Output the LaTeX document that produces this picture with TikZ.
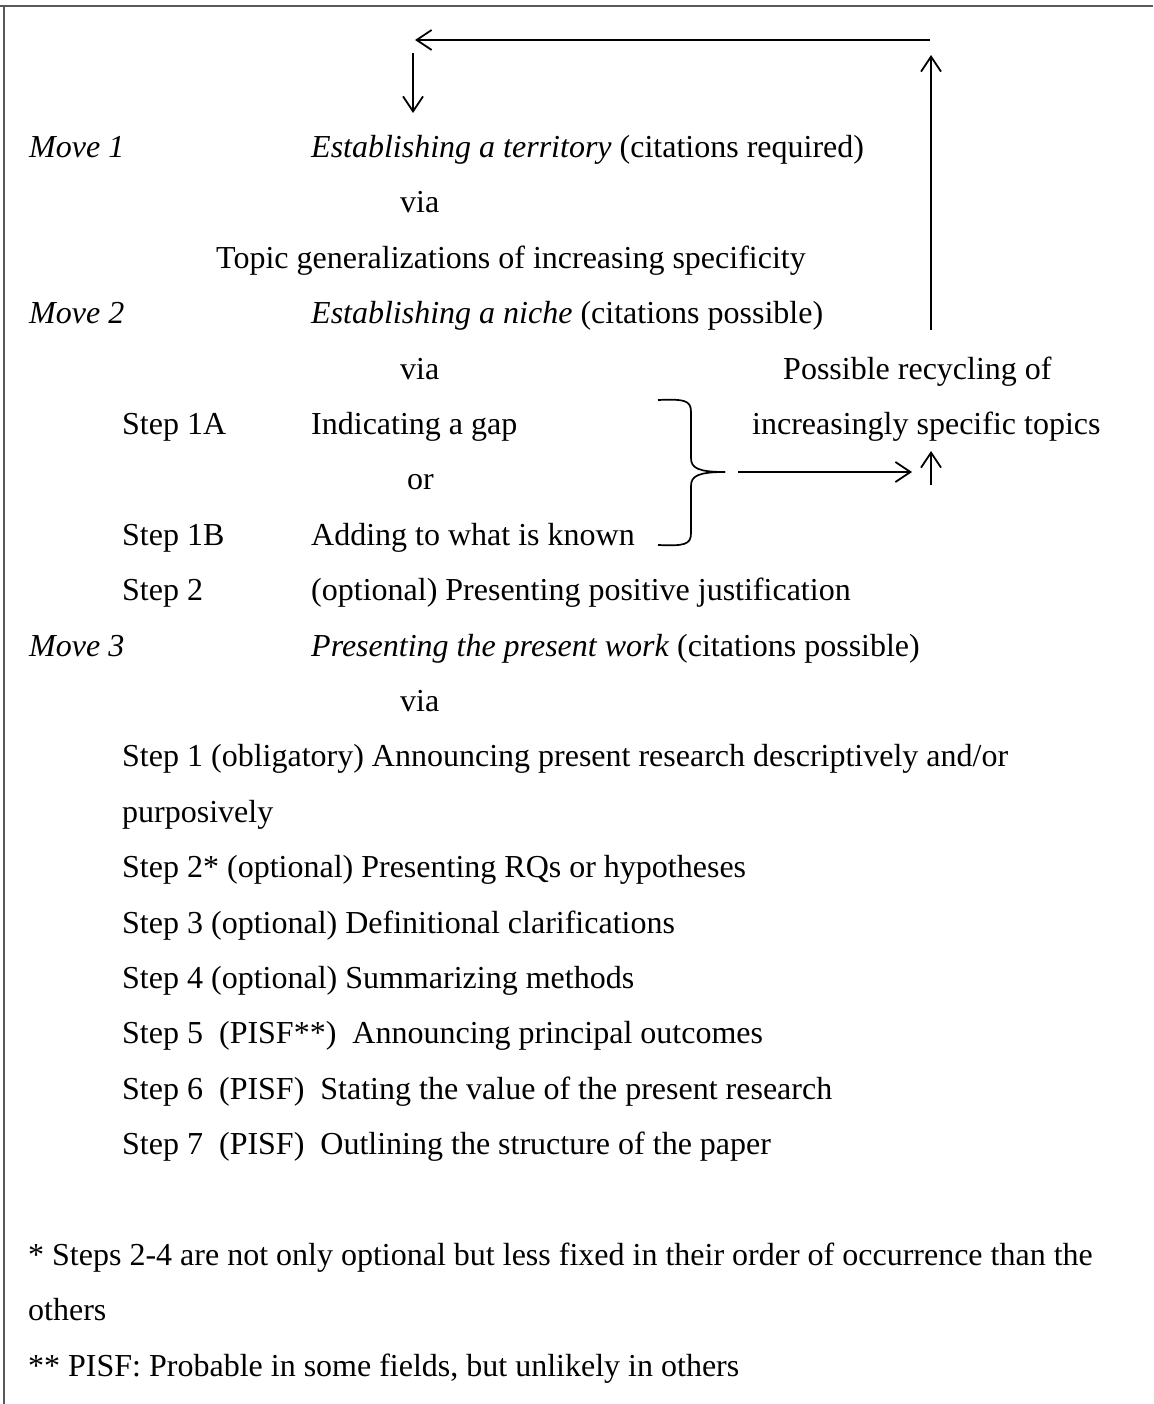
\documentclass[tikz,border=0pt]{standalone}
\usepackage{fontspec}
\setmainfont{Liberation Serif}
\usetikzlibrary{arrows.meta}
\begin{document}
\begin{tikzpicture}[x=1pt,y=-1pt,
  txt/.style={anchor=base west,inner sep=0pt,font=\fontsize{32}{38}\selectfont},
  arr/.style={line width=1.8pt,-{Straight Barb[length=15pt,width=20pt,line width=1.8pt]}},
  frame/.style={draw=black!65,line width=2.2pt}]
\useasboundingbox (0,0) rectangle (1153,1404);
\fill[white] (0,0) rectangle (1153,1404);
\draw[frame] (0,6) -- (1153,6);
\draw[frame] (4,5) -- (4,1404);
% rows
\node[txt] (m1) at (29,157.5) {\textit{Move 1}};
\node[txt] (m1t) at (311,157.5) {\textit{Establishing a territory} (citations required)};
\node[txt] (via1) at (400,212.9) {via};
\node[txt] (topic) at (216,268.3) {Topic generalizations of increasing specificity};
\node[txt] (m2) at (29,323.7) {\textit{Move 2}};
\node[txt] (m2t) at (311,323.7) {\textit{Establishing a niche} (citations possible)};
\node[txt] (via2) at (400,379.1) {via};
\node[txt] (rec1) at (783,379.1) {Possible recycling of};
\node[txt] (s1a) at (122,434.5) {Step 1A};
\node[txt] (s1at) at (311,434.5) {Indicating a gap};
\node[txt] (rec2) at (752,434.5) {increasingly specific topics};
\node[txt] (or) at (407,489.9) {or};
\node[txt] (s1b) at (122,545.3) {Step 1B};
\node[txt] (s1bt) at (311,545.3) {Adding to what is known};
\node[txt] (s2) at (122,600.7) {Step 2};
\node[txt] (s2t) at (311,600.7) {(optional) Presenting positive justification};
\node[txt] (m3) at (29,656.1) {\textit{Move 3}};
\node[txt] (m3t) at (311,656.1) {\textit{Presenting the present work} (citations possible)};
\node[txt] (via3) at (400,711.5) {via};
\node[txt] (t1) at (122,766.9) {Step 1 (obligatory) Announcing present research descriptively and/or};
\node[txt] (t1b) at (122,822.3) {purposively};
\node[txt] (t2) at (122,877.7) {Step 2* (optional) Presenting RQs or hypotheses};
\node[txt] (t3) at (122,933.1) {Step 3 (optional) Definitional clarifications};
\node[txt] (t4) at (122,988.5) {Step 4 (optional) Summarizing methods};
\node[txt] (t5) at (122,1043.9) {Step 5\ \ (PISF**)\ \ Announcing principal outcomes};
\node[txt] (t6) at (122,1099.3) {Step 6\ \ (PISF)\ \ Stating the value of the present research};
\node[txt] (t7) at (122,1154.7) {Step 7\ \ (PISF)\ \ Outlining the structure of the paper};
\node[txt] (n1) at (28,1265.5) {* Steps 2-4 are not only optional but less fixed in their order of occurrence than the};
\node[txt] (n2) at (28,1320.9) {others};
\node[txt] (n3) at (28,1376.3) {** PISF: Probable in some fields, but unlikely in others};
% recycling arrows
\coordinate (upbot) at (931,330);
\coordinate (uptop) at (931,55);
\coordinate (hr) at (930,40);
\coordinate (hl) at (415,40);
\coordinate (dtop) at (413,53);
\coordinate (dbot) at (413,113);
\draw[arr] (upbot) -- (uptop);
\draw[arr] (hr) -- (hl);
\draw[arr] (dtop) -- (dbot);
% brace
\coordinate (btip) at (725,472);
\draw[line width=1.7pt] (658,400) .. controls (684,399) and (691,400) .. (691,412) -- (691,458)
  .. controls (691,468) and (698,472) .. (btip);
\draw[line width=1.7pt] (658,545) .. controls (684,546) and (691,545) .. (691,533) -- (691,486)
  .. controls (691,476) and (698,472) .. (btip);
\coordinate (ra) at (738,472);
\coordinate (rb) at (912,472);
\draw[arr] (ra) -- (rb);
\coordinate (sua) at (931,485);
\coordinate (sub) at (931,451);
\draw[arr] (sua) -- (sub);
\end{tikzpicture}
\end{document}
